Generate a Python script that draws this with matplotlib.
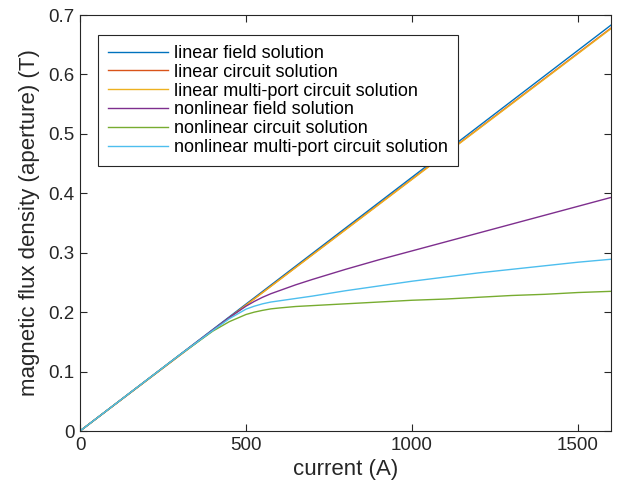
import numpy as np
import matplotlib
matplotlib.use('Agg')
import matplotlib.pyplot as plt

plt.rcParams['font.family'] = ['Liberation Sans', 'DejaVu Sans']

# linear solutions (straight lines through the origin)
I_lin = [0, 1600]
B_lin_field = [0, 0.683]
B_lin_circuit = [0, 0.678]
B_lin_multi = [0, 0.677]

# nonlinear solutions
I_nl = [0, 100, 200, 300, 400, 450, 500, 525, 550, 575, 600, 650, 700, 800,
        900, 1000, 1100, 1200, 1300, 1400, 1500, 1600]
B_nl_field = [0, 0.0426, 0.0852, 0.1278, 0.170, 0.191, 0.210, 0.218, 0.225,
              0.231, 0.236, 0.246, 0.255, 0.272, 0.288, 0.303, 0.318, 0.333,
              0.348, 0.363, 0.378, 0.393]
B_nl_circuit = [0, 0.0426, 0.0852, 0.1278, 0.168, 0.184, 0.196, 0.200, 0.203,
                0.2055, 0.207, 0.2095, 0.211, 0.214, 0.217, 0.220, 0.222, 0.225,
                0.228, 0.230, 0.233, 0.235]
B_nl_multi = [0, 0.0426, 0.0852, 0.1278, 0.169, 0.189, 0.205, 0.210, 0.214,
              0.217, 0.219, 0.223, 0.227, 0.236, 0.244, 0.252, 0.259, 0.266,
              0.272, 0.278, 0.284, 0.289]

labels = ['linear field solution', 'linear circuit solution',
          'linear multi-port circuit solution', 'nonlinear field solution',
          'nonlinear circuit solution', 'nonlinear multi-port circuit solution']
colors = ['#0072BD', '#D95319', '#EDB120', '#7E2F8E', '#77AC30', '#4DBEEE']

xticks = [0, 500, 1000, 1500]
yticks = [0, 0.1, 0.2, 0.3, 0.4, 0.5, 0.6, 0.7]
ytick_labels = ['0', '0.1', '0.2', '0.3', '0.4', '0.5', '0.6', '0.7']

fig = plt.figure(figsize=(6.18, 4.88), dpi=100)
ax = fig.add_axes([80/618, 57/488, 531/618, 416/488])

series = [(I_lin, B_lin_field), (I_lin, B_lin_circuit), (I_lin, B_lin_multi),
          (I_nl, B_nl_field), (I_nl, B_nl_circuit), (I_nl, B_nl_multi)]
for (x, y), lab, c in zip(series, labels, colors):
    ax.plot(x, y, color=c, lw=1.0, label=lab)

ax.set_xlim(0, 1600)
ax.set_ylim(0, 0.7)
ax.set_xticks(xticks)
ax.set_xticklabels([str(t) for t in xticks])
ax.set_yticks(yticks)
ax.set_yticklabels(ytick_labels)
ax.tick_params(direction='in', length=5, width=0.8, colors='#262626',
               labelsize=13.5, top=True, right=True, pad=4)
for s in ax.spines.values():
    s.set_color('#262626')
    s.set_linewidth(0.8)

ax.set_xlabel('current (A)', fontsize=16, color='#262626', labelpad=4)
ax.set_ylabel('magnetic flux density (aperture) (T)', fontsize=16,
              color='#262626', labelpad=6)

leg = ax.legend(loc='upper left', bbox_to_anchor=(18/531, 396/416),
                borderaxespad=0, fontsize=13.0, fancybox=False, framealpha=1,
                edgecolor='#262626', handlelength=3.3, handletextpad=0.38,
                labelspacing=0.1, borderpad=0.55)
leg.get_frame().set_linewidth(0.8)

fig.savefig('out.png', dpi=100)
